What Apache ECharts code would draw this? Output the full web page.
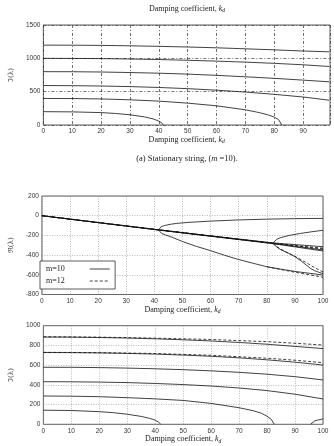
<!DOCTYPE html>
<html>
<head>
<meta charset="utf-8">
<script src="https://cdn.jsdelivr.net/npm/echarts/dist/echarts.min.js"></script>
<style>
  html, body { margin: 0; padding: 0; background: #fff; }
  #chart { width: 334px; height: 446px; }
</style>
</head>
<body>
<div id="chart"></div>
<script>
  // (a) stationary string, m=10 : imaginary parts
  var stat1 = [[0,200],[10,197],[20,186],[25,173],[30,153],[35,122],[38,92],[40,58],[41,32],[41.5,0]]
  var stat2 = [[0,398],[10,397],[20,391],[30,378],[40,358],[50,328],[60,288],[70,228],[75,184],[78,150],[80,118],[81.5,80],[82.6,0]]
  var stat3 = [[0,592],[10,590],[20,585],[30,576],[40,563],[50,545],[60,522],[70,494],[80,460],[90,420],[99,372]]
  var stat4 = [[0,800],[10,799],[20,795],[30,787],[40,777],[50,763],[60,745],[70,723],[80,700],[90,673],[99,648]]
  var stat5 = [[0,1000],[10,999],[20,996],[30,990],[40,982],[50,971],[60,958],[70,943],[80,925],[90,903],[99,878]]
  var stat6 = [[0,1198],[10,1197],[20,1194],[30,1188],[40,1180],[50,1170],[60,1158],[70,1143],[80,1127],[90,1110],[99,1098]]

  // real parts, m=10 (solid)
  var reMainA = [[0,0],[41.5,-144],[82.2,-280],[100,-348]]
  var reMainB = [[0,0],[20,-70],[41.5,-143],[60,-205],[82.2,-276],[100,-315]]
  var reMainC = [[0,0],[41.5,-146],[82.2,-284],[100,-358]]
  var reBr1Up = [[41.5,-144],[41.8,-125],[42.5,-110],[44,-97],[46,-86],[48,-78],[52,-68],[60,-55],[70,-43],[80,-35],[90,-30],[100,-27]]
  var reBr1Lo = [[41.5,-144],[41.8,-162],[42.5,-178],[44,-196],[46,-215],[50,-262],[55,-312],[60,-355],[65,-402],[70,-445],[75,-482],[80,-518],[85,-543],[90,-566],[95,-584],[100,-602]]
  var reBr2Up = [[82.2,-280],[82.5,-262],[83.5,-240],[85,-222],[88,-200],[92,-180],[96,-163],[100,-148]]
  var reBr2Lo = [[82.2,-280],[82.5,-296],[83.5,-318],[85,-345],[88,-385],[90,-415],[92,-455],[94,-500],[95.5,-534],[97,-558],[98.5,-574],[100,-588]]
  // real parts, m=12 (dashed)
  var re12MainA = [[0,0],[41.5,-144],[82.2,-280],[100,-338]]
  var re12MainB = [[0,0],[41.5,-144],[82.2,-281],[100,-330]]
  var re12Br2Lo = [[82.2,-280],[83,-303],[85,-340],[88,-385],[91,-428],[94,-476],[97,-527],[100,-572]]
  var re12Br1Lo = [[80,-518],[85,-546],[90,-574],[95,-598],[100,-625]]

  // imaginary parts, m=10 (solid)
  var im1 = [[0,143],[10,140],[20,128],[25,118],[30,102],[35,80],[38,60],[40,42],[41.2,22],[42,0]]
  var im2 = [[0,287],[10,285],[20,280],[30,270],[40,258],[50,242],[60,212],[70,168],[75,138],[78,112],[80,82],[81.5,50],[82.6,0]]
  var im3 = [[0,432],[10,431],[20,428],[30,423],[40,414],[50,403],[60,388],[70,368],[80,342],[90,305],[100,257]]
  var im4 = [[0,578],[10,578],[20,575],[30,570],[40,563],[50,554],[60,542],[70,527],[80,508],[90,483],[100,450]]
  var im5 = [[0,728],[10,727],[20,724],[30,719],[40,712],[50,702],[60,690],[70,674],[80,654],[90,630],[100,601]]
  var im6 = [[0,885],[10,884],[20,880],[30,875],[40,867],[50,857],[60,845],[70,830],[80,812],[90,790],[100,768]]
  var imNew = [[95.5,0],[96,20],[97,33],[98,42],[100,55]]
  // imaginary parts, m=12 (dashed)
  var im12_5 = [[0,730],[20,727],[40,718],[60,700],[80,670],[90,650],[100,625]]
  var im12_6 = [[0,888],[20,884],[40,874],[60,860],[80,838],[90,822],[100,804]]

  var legendNames = ['m=10', 'm=12']

  var serif = 'Liberation Serif'
  var rich = {
    n: { fontFamily: serif, fontSize: 8, color: '#222', fontWeight: 'normal' },
    k: { fontFamily: serif, fontSize: 8, color: '#222', fontStyle: 'italic', fontWeight: 'normal' },
    s: { fontFamily: serif, fontSize: 5.5, color: '#222', fontStyle: 'italic', fontWeight: 'normal', padding: [4, 0, 0, 0] }
  }
  var kdName = '{n|Damping coefficient, }{k|k}{s|d}'

  function line (data, grid, name, dashed) {
    return {
      type: 'line',
      name: name,
      xAxisIndex: grid,
      yAxisIndex: grid,
      data: data,
      symbol: 'none',
      silent: true,
      lineStyle: { color: '#111', width: 0.8, type: dashed ? [3, 2] : 'solid' }
    }
  }

  function xAxis (grid, max, gap, grStyle) {
    return {
      type: 'value',
      gridIndex: grid,
      min: 0,
      max: max,
      interval: 10,
      name: kdName,
      nameLocation: 'middle',
      nameGap: gap,
      nameTextStyle: { rich: rich },
      axisLine: { show: false },
      axisTick: { show: false },
      axisLabel: {
        fontSize: 6.5, color: '#333', margin: 3, fontFamily: 'Liberation Sans',
        formatter: function (v) { return v % 10 === 0 ? String(v) : '' }
      },
      splitLine: { lineStyle: grStyle }
    }
  }

  function yAxis (grid, min, max, step, label, gap, grStyle) {
    return {
      type: 'value',
      gridIndex: grid,
      min: min,
      max: max,
      interval: step,
      name: label,
      nameLocation: 'middle',
      nameGap: gap,
      nameTextStyle: { fontFamily: 'DejaVu Serif', fontSize: 7, color: '#333' },
      axisLine: { show: false },
      axisTick: { show: false },
      axisLabel: {
        fontSize: 6.5, color: '#333', margin: 3, fontFamily: 'Liberation Sans',
        formatter: function (v) { return String(v) }
      },
      splitLine: { lineStyle: grStyle }
    }
  }

  var dashDot = { color: '#333', width: 0.7, type: [3, 2, 1, 2] }
  var dotted = { color: '#888', width: 0.6, type: [1, 1.5] }

  var option = {
    animation: false,
    backgroundColor: '#fff',
    title: [
      { text: kdName, left: 182, top: -1, textAlign: 'center', textStyle: { fontWeight: 'normal', rich: rich } },
      { text: '{n|(a) Stationary string, (}{k|m}{n| =10).}', left: 182, top: 149, textAlign: 'center',
        textStyle: { fontWeight: 'normal', rich: {
          n: { fontFamily: serif, fontSize: 8.5, color: '#222', fontWeight: 'normal' },
          k: { fontFamily: serif, fontSize: 8.5, color: '#222', fontStyle: 'italic', fontWeight: 'normal' }
        } } }
    ],
    legend: {
      data: legendNames,
      orient: 'vertical',
      left: 40,
      top: 261,
      align: 'right',
      itemWidth: 20,
      itemHeight: 8,
      itemGap: 4,
      padding: [4, 5, 4, 6],
      borderColor: '#333',
      borderWidth: 0.8,
      backgroundColor: '#fff',
      itemStyle: { color: 'rgba(0,0,0,0)', borderWidth: 0, opacity: 0 },
      lineStyle: { width: 0.8 },
      formatter: '{a|{name}}',
      textStyle: { rich: { a: { fontFamily: serif, fontSize: 8, color: '#222', padding: [0, 20, 0, 0] } } }
    },
    grid: [
      { left: 32, right: 4, top: 25, height: 100, show: true, borderColor: '#333', borderWidth: 0.8 },
      { left: 28, right: 11, top: 196, height: 98.5, show: true, borderColor: '#333', borderWidth: 0.8 },
      { left: 27, right: 11, top: 325.7, height: 98.6, show: true, borderColor: '#333', borderWidth: 0.8 }
    ],
    xAxis: [
      xAxis(0, 99.3, 10, dashDot),
      xAxis(1, 100, 10, dotted),
      xAxis(2, 100, 9.5, dotted)
    ],
    yAxis: [
      yAxis(0, 0, 1500, 500, 'ℑ(λ)', 18, dashDot),
      yAxis(1, -800, 200, 200, 'ℜ(λ)', 18, dotted),
      yAxis(2, 0, 1000, 200, 'ℑ(λ)', 15, dotted)
    ],
    series: [
      line(stat1, 0, 'stationary'),
      line(stat2, 0, 'stationary'),
      line(stat3, 0, 'stationary'),
      line(stat4, 0, 'stationary'),
      line(stat5, 0, 'stationary'),
      line(stat6, 0, 'stationary'),

      line(reMainA, 1, 'm=10'),
      line(reMainB, 1, 'm=10'),
      line(reMainC, 1, 'm=10'),
      line(reBr1Up, 1, 'm=10'),
      line(reBr1Lo, 1, 'm=10'),
      line(reBr2Up, 1, 'm=10'),
      line(reBr2Lo, 1, 'm=10'),
      line(re12MainA, 1, 'm=12', true),
      line(re12MainB, 1, 'm=12', true),
      line(re12Br2Lo, 1, 'm=12', true),
      line(re12Br1Lo, 1, 'm=12', true),

      line(im1, 2, 'm=10'),
      line(im2, 2, 'm=10'),
      line(im3, 2, 'm=10'),
      line(im4, 2, 'm=10'),
      line(im5, 2, 'm=10'),
      line(im6, 2, 'm=10'),
      line(imNew, 2, 'm=10'),
      line(im12_5, 2, 'm=12', true),
      line(im12_6, 2, 'm=12', true)
    ]
  }

  var chart = echarts.init(document.getElementById('chart'))
  chart.setOption(option)
</script>
</body>
</html>
